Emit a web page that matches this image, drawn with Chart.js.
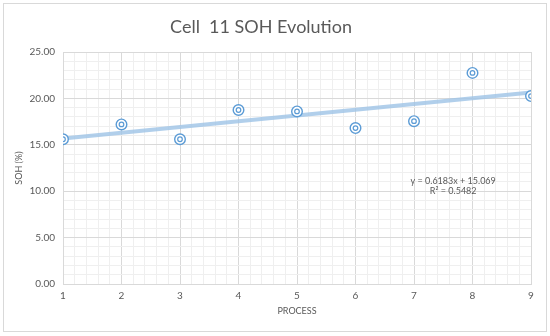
<!DOCTYPE html>
<html><head><meta charset="utf-8">
<script src="https://cdn.jsdelivr.net/npm/chart.js@4/dist/chart.umd.min.js"></script>
<style>html,body{margin:0;padding:0;background:#fff}#wrap{width:550px;height:336px}</style>
</head><body><div id="wrap"><canvas id="c" width="550" height="336"></canvas></div>
<script>
const processes = [1, 2, 3, 4, 5, 6, 7, 8, 9];
const soh = [15.6, 17.2, 15.6, 18.75, 18.6, 16.8, 17.55, 22.75, 20.25];
const trendX = [1, 9];
const trendY = [15.69, 20.63];
const titleText = 'Cell  11 SOH Evolution';
const eqLines = ['y = 0.6183x + 15.069', 'R\u00b2 = 0.5482'];
const yMajorTicks = [0, 5, 10, 15, 20, 25];

const FONT = 'Lato, "Open Sans", sans-serif';
const TXT = '#595959';
const blue = '#5B9BD5';
const pts = processes.map((x, i) => ({x, y: soh[i]}));
const trend = trendX.map((x, i) => ({x, y: trendY[i]}));
const isInt = v => Math.abs(v - Math.round(v)) < 1e-6;

const deco = {
  id: 'deco',
  beforeDraw(chart) {
    const ctx = chart.ctx;
    ctx.save();
    ctx.fillStyle = '#fff';
    ctx.fillRect(0, 0, 550, 336);
    ctx.strokeStyle = '#d9d9d9';
    ctx.lineWidth = 1;
    ctx.strokeRect(3.5, 3.5, 543, 328);
    ctx.fillStyle = TXT;
    ctx.font = '18px ' + FONT;
    ctx.textAlign = 'center';
    ctx.textBaseline = 'middle';
    ctx.fillText(titleText, 261, 27);
    ctx.restore();
  },
  afterDatasetsDraw(chart) {
    const ctx = chart.ctx, xs = chart.scales.x, ys = chart.scales.y;
    ctx.save();
    ctx.fillStyle = TXT;
    ctx.font = '9px ' + FONT;
    ctx.textAlign = 'center';
    ctx.textBaseline = 'middle';
    const cx = xs.getPixelForValue(7.67);
    ctx.fillText(eqLines[0], cx, ys.getPixelForValue(11.1));
    ctx.fillText(eqLines[1], cx, ys.getPixelForValue(10.0));
    ctx.restore();
  }
};

new Chart(document.getElementById('c'), {
  type: 'scatter',
  data: {
    datasets: [
      {data: pts, pointRadius: 2.3, pointBorderWidth: 1.2, pointBorderColor: blue, pointBackgroundColor: 'rgba(0,0,0,0)', showLine: false, order: 1},
      {data: pts, pointRadius: 5.3, pointBorderWidth: 1.4, pointBorderColor: blue, pointBackgroundColor: '#fff', showLine: false, order: 2},
      {data: trend, showLine: true, borderColor: 'rgba(157,195,230,0.8)', borderWidth: 4, pointRadius: 0, order: 3}
    ]
  },
  options: {
    responsive: false,
    animation: false,
    events: [],
    layout: {padding: {top: 52, right: 19, left: 0, bottom: 0}},
    plugins: {legend: {display: false}, tooltip: {enabled: false}, title: {display: false}},
    scales: {
      x: {
        type: 'linear', min: 1, max: 9,
        afterFit: s => { s.height = 52; },
        ticks: {stepSize: 0.2, autoSkip: false, maxRotation: 0, padding: 6, color: TXT, font: {family: FONT, size: 10},
          callback: v => isInt(v) ? String(Math.round(v)) : ''},
        grid: {drawTicks: false, color: c => isInt(c.tick.value) ? '#d9d9d9' : '#efefef', lineWidth: 1},
        border: {color: '#d9d9d9'},
        title: {display: true, text: 'PROCESS', color: TXT, font: {family: FONT, size: 9}, padding: {top: 0, bottom: 20}}
      },
      y: {
        min: 0, max: 25,
        afterFit: s => { s.width = 63; },
        ticks: {stepSize: 1, autoSkip: false, padding: 8, color: TXT, font: {family: FONT, size: 10},
          callback: v => yMajorTicks.includes(v) ? v.toFixed(2) : ''},
        grid: {drawTicks: false, color: c => yMajorTicks.includes(c.tick.value) ? '#d9d9d9' : '#efefef', lineWidth: 1},
        border: {color: '#d9d9d9'},
        title: {display: true, text: 'SOH (%)', color: TXT, font: {family: FONT, size: 9}, padding: {top: 14, bottom: 0}}
      }
    }
  },
  plugins: [deco]
});
</script></body></html>
